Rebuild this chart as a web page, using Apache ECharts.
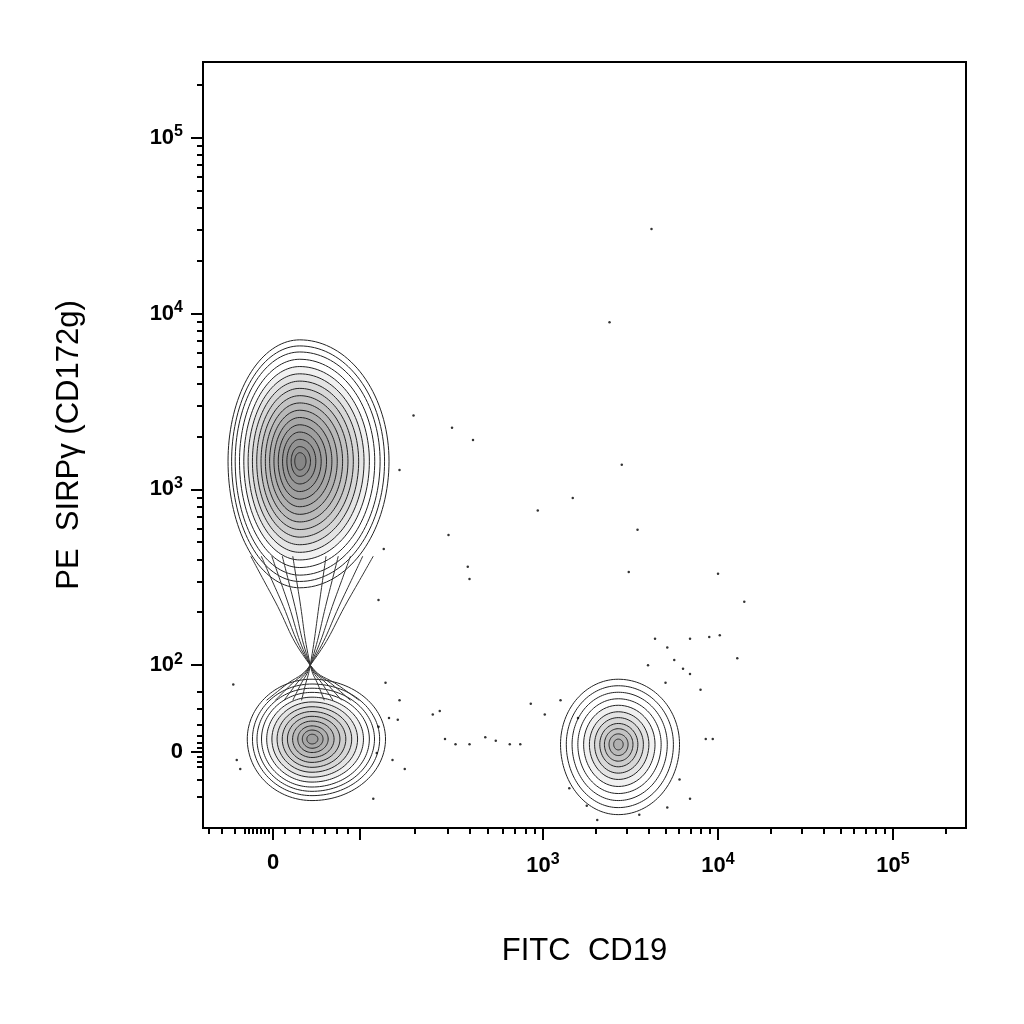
<!DOCTYPE html>
<html>
<head>
<meta charset="utf-8">
<script src="https://cdn.jsdelivr.net/npm/echarts@6/dist/echarts.min.js"></script>
<style>html,body{margin:0;background:#fff}#main{width:1024px;height:1024px}</style>
</head>
<body>
<div id="main"></div>
<script>
// axes are in display units: 2 = 10^2, 3 = 10^3 ... ; zero sits on the biexponential part
var xMajor = [1.457, 1.954, 3, 4, 5];
var xMajorLabels = ['0', '', '10^3', '10^4', '10^5'];
var xNearZero = [1.091, 1.166, 1.240, 1.297, 1.320, 1.343, 1.366, 1.388, 1.411, 1.434, 1.526, 1.611, 1.686, 1.754, 1.823, 1.886];
var yMajor = [1.506, 2, 3, 4, 5];
var yMajorLabels = ['0', '10^2', '10^3', '10^4', '10^5'];
var yNearZero = [1.25, 1.35, 1.42, 1.45, 1.48, 1.53, 1.56, 1.60, 1.66, 1.75, 1.85];
var logMinor = [2, 3, 4, 5, 6, 7, 8, 9];

// populations: centre x, centre y, left, right, top, bottom extents of outer contour
var popA = [1.61, 3.16, 0.41, 0.51, 0.69, 0.72];
var popB = [1.68, 1.58, 0.37, 0.42, 0.34, 0.35];
var popC = [3.43, 1.55, 0.33, 0.35, 0.37, 0.40];
var ringsA = [1, 0.95, 0.9, 0.84, 0.78, 0.72, 0.66, 0.6, 0.54, 0.48, 0.42, 0.36, 0.3, 0.24, 0.18, 0.12, 0.07];
var ringsB = [1, 0.92, 0.85, 0.78, 0.7, 0.62, 0.54, 0.46, 0.38, 0.3, 0.22, 0.15, 0.08];
var ringsC = [1, 0.9, 0.8, 0.7, 0.6, 0.5, 0.41, 0.32, 0.24, 0.16, 0.08];

// neck contours between the two left populations
var neckTopX = [1.33, 1.39, 1.45, 1.51, 1.57, 1.76, 1.83, 1.90, 1.97, 2.03];
var neckBotX = [1.95, 1.90, 1.85, 1.80, 1.75, 1.62, 1.57, 1.52, 1.47, 1.42];

var dotsX = [3.62, 3.38, 3.45, 3.17, 3.54, 2.97, 3.49, 4.00, 4.15, 2.57, 2.58, 2.46, 2.60, 2.48, 2.26, 2.18, 2.09, 2.06, 3.64, 3.71, 3.84, 3.95, 4.01, 4.11, 3.75, 3.84, 3.90, 3.93, 3.97, 3.78, 3.84, 3.71, 3.31, 3.55, 3.10, 3.01, 2.93, 2.87, 2.81, 2.73, 2.67, 2.58, 2.50, 2.41, 2.37, 2.44, 2.18, 2.17, 2.21, 2.14, 2.03, 1.23, 1.25, 1.27, 3.20, 3.15, 3.70, 3.80, 3.60, 3.25, 2.10, 2.12, 2.06, 2.05];
var dotsY = [4.48, 3.95, 3.14, 2.95, 2.77, 2.88, 2.53, 2.52, 2.36, 2.56, 2.49, 2.74, 3.28, 3.35, 3.42, 3.11, 2.66, 2.37, 2.15, 2.10, 2.15, 2.16, 2.17, 2.04, 2.03, 1.95, 1.86, 1.58, 1.58, 1.35, 1.24, 1.19, 1.12, 1.15, 1.80, 1.72, 1.78, 1.55, 1.55, 1.57, 1.59, 1.55, 1.55, 1.74, 1.72, 1.58, 1.80, 1.69, 1.41, 1.46, 1.24, 1.89, 1.46, 1.41, 1.70, 1.30, 1.90, 1.98, 2.00, 1.20, 1.90, 1.70, 1.65, 1.50];

function minorTicks(base, width) {
  var out = [];
  for (var d = 0; d < base.length; d++) logMinor.forEach(function (k) { out.push(base[d] + width[d] * Math.log10(k)); });
  return out;
}
var xMinor = xNearZero.concat(minorTicks([1.954, 3, 4, 5], [1.046, 1, 1, 1]));
var yMinor = yNearZero.concat(minorTicks([2, 3, 4, 5], [1, 1, 1, 1]));

function ringData(pop, rings) {
  return rings.map(function (s, i) {
    return [pop[0], pop[1], pop[2] * s, pop[3] * s, pop[4] * s, pop[5] * s, i];
  });
}
var rings = ringData(popA, ringsA).concat(ringData(popB, ringsB), ringData(popC, ringsC));
// hourglass: each contour bows in from the top lobe, crosses near 10^2, and opens into the lower lobe
var neck = neckTopX.map(function (x, i) {
  return [[x, 2.62], [x + (1.67 - x) * 0.35, 2.4], [1.67, 2.0], [neckBotX[i] + (1.67 - neckBotX[i]) * 0.4, 1.88], [neckBotX[i], 1.8]];
});

function labelFmt(values, labels) {
  return function (v) {
    var i = values.findIndex(function (m) { return Math.abs(m - v) < 1e-6; });
    if (i < 0) return '';
    var t = labels[i];
    if (t.indexOf('^') < 0) return t;
    var p = t.split('^');
    return p[0] + '{sup|' + p[1] + '}';
  };
}
var rich = { sup: { fontSize: 16, verticalAlign: 'top', padding: [0, 0, 12, 0], fontFamily: 'Liberation Sans', color: '#000' } };

var chart = echarts.init(document.getElementById('main'));
var axisLineStyle = { color: '#000', width: 2 };
var xAxisBase = { type: 'value', min: 1.057, max: 5.417, splitLine: { show: false } };
var yAxisBase = { type: 'value', min: 1.074, max: 5.43, splitLine: { show: false } };

var series = [{
  type: 'custom',
  coordinateSystem: 'cartesian2d',
  data: rings,
  silent: true,
  renderItem: function (params, api) {
    var cx = api.value(0), cy = api.value(1), l = api.value(2), r = api.value(3), t = api.value(4), b = api.value(5), idx = api.value(6);
    var pts = [];
    for (var k = 0; k < 72; k++) {
      var a = k / 72 * Math.PI * 2, c = Math.cos(a), s = Math.sin(a);
      pts.push(api.coord([cx + (c > 0 ? r : l) * c, cy + (s > 0 ? t : b) * s]));
    }
    return {
      type: 'polygon',
      shape: { points: pts, smooth: 0.3 },
      style: { fill: idx < 4 ? 'rgba(0,0,0,0)' : 'rgba(60,60,60,0.07)', stroke: '#222', lineWidth: 1 }
    };
  }
}, {
  type: 'scatter', data: dotsX.map(function (x, i) { return [x, dotsY[i]]; }),
  symbolSize: 2.5, itemStyle: { color: '#000' }, silent: true
}];
neck.forEach(function (line) {
  series.push({ type: 'line', data: line, smooth: 0.5, showSymbol: false, silent: true, lineStyle: { color: '#333', width: 1 } });
});

var labelStyle = { fontSize: 22, color: '#000', fontFamily: 'Liberation Sans', fontWeight: 'bold' };
chart.setOption({
  animation: false,
  grid: { left: 203, top: 62, right: 58, bottom: 196, show: true, borderColor: '#000', borderWidth: 2 },
  xAxis: [
    Object.assign({}, xAxisBase, {
      axisLine: { lineStyle: axisLineStyle },
      axisTick: { length: 12, customValues: xMajor, lineStyle: axisLineStyle },
      axisLabel: Object.assign({ customValues: xMajor, formatter: labelFmt(xMajor, xMajorLabels), rich: rich, margin: 24 }, labelStyle),
      name: 'FITC  CD19', nameLocation: 'middle', nameGap: 108, nameTextStyle: { fontSize: 31, fontFamily: 'Liberation Sans', color: '#000' }
    }),
    Object.assign({}, xAxisBase, {
      position: 'bottom', axisLine: { show: false }, axisLabel: { show: false },
      axisTick: { length: 6, customValues: xMinor, lineStyle: { color: '#000', width: 2 } }
    })
  ],
  yAxis: [
    Object.assign({}, yAxisBase, {
      axisLine: { lineStyle: axisLineStyle },
      axisTick: { length: 12, customValues: yMajor, lineStyle: axisLineStyle },
      axisLabel: Object.assign({ customValues: yMajor, formatter: labelFmt(yMajor, yMajorLabels), rich: rich, margin: 20 }, labelStyle),
      name: 'PE  SIRPγ (CD172g)', nameLocation: 'middle', nameGap: 118, nameTextStyle: { fontSize: 31, fontFamily: 'Liberation Sans', color: '#000' }
    }),
    Object.assign({}, yAxisBase, {
      position: 'left', axisLine: { show: false }, axisLabel: { show: false },
      axisTick: { length: 6, customValues: yMinor, lineStyle: { color: '#000', width: 2 } }
    })
  ],
  series: series
});
</script>
</body>
</html>
